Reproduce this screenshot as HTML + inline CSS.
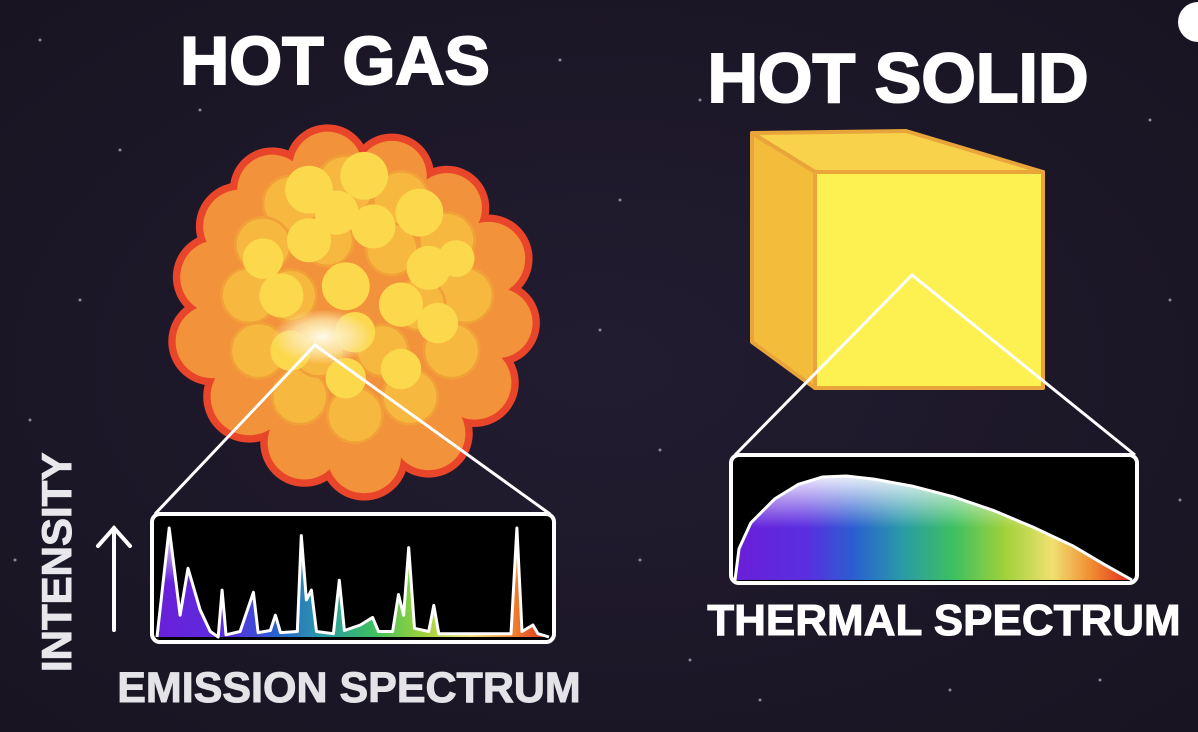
<!DOCTYPE html>
<html><head><meta charset="utf-8"><style>
html,body{margin:0;padding:0;background:#1b1727;}
svg{display:block}
text{font-family:"Liberation Sans",sans-serif;font-weight:bold}
</style></head><body>
<svg width="1198" height="732" viewBox="0 0 1198 732">
<defs>
<radialGradient id="bg" cx="0.5" cy="0.5" r="0.8"><stop offset="0" stop-color="#221c31"/><stop offset="1" stop-color="#17131f"/></radialGradient>
<linearGradient id="rainbow" x1="0" x2="1" y1="0" y2="0">
<stop offset="0" stop-color="#6a1fd8"/><stop offset="0.18" stop-color="#5a2ee0"/><stop offset="0.3" stop-color="#2a5fd0"/><stop offset="0.42" stop-color="#2a9aa8"/><stop offset="0.55" stop-color="#3cc060"/><stop offset="0.68" stop-color="#9fd23a"/><stop offset="0.8" stop-color="#f0e070"/><stop offset="0.9" stop-color="#f08a30"/><stop offset="1" stop-color="#e02a20"/></linearGradient>
<linearGradient id="fadeW" x1="0" x2="0" y1="0" y2="1"><stop offset="0" stop-color="#fff" stop-opacity="0.9"/><stop offset="0.5" stop-color="#fff" stop-opacity="0"/></linearGradient>
<radialGradient id="glow" cx="0.5" cy="0.5" r="0.5"><stop offset="0" stop-color="#fffbe8"/><stop offset="0.6" stop-color="#fde6a8" stop-opacity="0.8"/><stop offset="1" stop-color="#fde6a8" stop-opacity="0"/></radialGradient>
</defs>
<rect width="1198" height="732" fill="url(#bg)"/>
<g id="stars"></g>
<circle cx="1198" cy="22" r="20" fill="#fff"/>

<text x="335" y="84" font-size="68" fill="#fff" text-anchor="middle" stroke="#fff" stroke-width="2">HOT GAS</text>
<text x="898" y="102" font-size="70" fill="#fff" text-anchor="middle" stroke="#fff" stroke-width="2">HOT SOLID</text>

<g id="cloud" transform="translate(355,312) scale(0.92) translate(-350,-308)"></g>

<g stroke="#e9a43a" stroke-width="4" stroke-linejoin="round">
<polygon points="752,133 906,131 1043,172 815,172" fill="#f8d24a"/>
<polygon points="752,133 815,172 815,388 752,342" fill="#f3bc3a"/>
<polygon points="815,172 1043,172 1043,388 815,388" fill="#fdf152"/>
</g>

<g stroke="#fff" stroke-width="3" fill="none">
<polyline points="155,514 315,345 550,514"/>
<polyline points="735,455 912,275 1135,455"/>
</g>

<rect x="152" y="514" width="402" height="128" rx="8" fill="#000" stroke="#fff" stroke-width="4"/>
<g id="emission"></g>
<rect x="731" y="455" width="406" height="128" rx="8" fill="#000" stroke="#fff" stroke-width="4"/>
<g id="thermal"></g>

<g stroke="#fff" stroke-width="4" fill="none" stroke-linecap="round">
<line x1="114" y1="630" x2="114" y2="528"/><polyline points="98,546 114,528 130,546"/>
</g>
<text transform="translate(71,672) rotate(-90)" font-size="42" fill="#e8e8ec" stroke="#e8e8ec" stroke-width="1">INTENSITY</text>
<text x="349" y="702" font-size="43" fill="#e4e4e8" text-anchor="middle" stroke="#e4e4e8" stroke-width="1">EMISSION SPECTRUM</text>
<text x="944" y="635" font-size="44" fill="#fff" text-anchor="middle" stroke="#fff" stroke-width="1">THERMAL SPECTRUM</text>
</svg>
<script>
// emission data: position (0-100 across box) and intensity (0-100)
const emissionPos=[0,3.1,5.9,7.9,11,13.6,15.6,16.6,17.6,21.2,24.6,25.8,28.9,30.2,31.5,35.8,36.8,38.1,39.4,40.7,45,46.5,47.8,51.9,55,56.5,60.1,61.6,62.9,64.2,65.7,69.3,70.6,71.9,90.3,91.8,93.1,95.9,97.2,100];
const emissionVal=[0,100,20,63,25,5,0,43,2,5,41,4,6,20,4,5,93,34,43,5,3,52,6,11,18,5,5,39,20,82,8,5,29,3,3,100,5,11,3,0];
const thermalPos=[0,1,4,10,16,22,28,35,45,55,65,75,85,93,100];
const thermalVal=[0,30,55,78,92,99,100,97,90,80,67,51,33,15,0];
(function(){
const NS='http://www.w3.org/2000/svg';
function mk(t,a,p){const e=document.createElementNS(NS,t);for(const k in a)e.setAttribute(k,a[k]);p.appendChild(e);return e;}
function drawSpec(gid,pos,val,x0,x1,yb,h,name){
  const g=document.getElementById(gid);
  const xs=p=>x0+p/100*(x1-x0), ys=v=>yb-v/100*h;
  let d='M'+xs(pos[0])+','+yb;
  pos.forEach((p,i)=>d+=' L'+xs(p).toFixed(1)+','+ys(val[i]).toFixed(1));
  d+=' L'+xs(pos[pos.length-1])+','+yb+' Z';
  const f=mk('path',{d:d,fill:'url(#rainbow)'},g);
  
  
  const w=mk('path',{d:d,fill:'url(#fadeW)'},g);
  
  
  let l='M'+xs(pos[0])+','+ys(val[0]);
  pos.forEach((p,i)=>l+=' L'+xs(p).toFixed(1)+','+ys(val[i]).toFixed(1));
  const ln=mk('path',{d:l,fill:'none',stroke:'#fff','stroke-width':3,'stroke-linejoin':'round'},g);
  
  
}
drawSpec('emission',emissionPos,emissionVal,157,549,637,109,'emission');
drawSpec('thermal',thermalPos,thermalVal,735,1132,580,104,'thermal');
const cg=document.getElementById('cloud');
const rim=[[260,175,38],[320,150,38],[390,160,38],[450,195,38],[495,250,40],[505,320,38],[480,385,40],[430,440,40],[360,465,40],[295,450,40],[235,400,42],[195,340,40],[200,270,40],[225,215,40]];
rim.forEach(c=>mk('circle',{cx:c[0],cy:c[1],r:c[2]+8,fill:'#e8452a'},cg));
mk('ellipse',{cx:350,cy:310,rx:170,ry:165,fill:'#e8452a'},cg);
rim.forEach(c=>mk('circle',{cx:c[0],cy:c[1],r:c[2],fill:'#f2923a'},cg));
mk('ellipse',{cx:350,cy:310,rx:160,ry:155,fill:'#f2923a'},cg);
const mid=[[280,190,30],[340,170,32],[400,185,30],[450,230,30],[470,290,30],[455,350,30],[410,400,30],[350,420,30],[290,400,30],[245,350,30],[235,290,30],[250,235,30],[320,230,28],[390,240,28],[420,300,28],[380,350,28],[310,350,28],[280,290,28]];
mid.forEach(c=>mk('circle',{cx:c[0],cy:c[1],r:c[2],fill:'#f7b840',stroke:'#f2a038','stroke-width':3},cg));
const topC=[[300,175,26],[360,160,26],[420,200,26],[300,230,24],[370,215,24],[430,260,24],[440,320,22],[400,370,22],[340,380,22],[280,350,22],[270,290,24],[340,280,26],[400,300,24],[350,330,22],[250,250,22],[330,200,24],[460,250,20]];
topC.forEach(c=>mk('circle',{cx:c[0],cy:c[1],r:c[2],fill:'#fbd84c'},cg));
mk('ellipse',{cx:315,cy:335,rx:55,ry:30,fill:'url(#glow)'},cg);
const sg=document.getElementById('stars');
const starPts=[[40,40],[120,150],[80,300],[30,420],[560,60],[620,200],[600,330],[660,450],[690,660],[760,700],[1150,120],[1170,300],[1100,680],[950,690],[500,640],[1180,500],[700,100],[640,560],[200,110],[15,560]];
starPts.forEach(s=>mk('circle',{cx:s[0],cy:s[1],r:1.5,fill:'#8a86a0'},sg));
})();
</script>
</body></html>
